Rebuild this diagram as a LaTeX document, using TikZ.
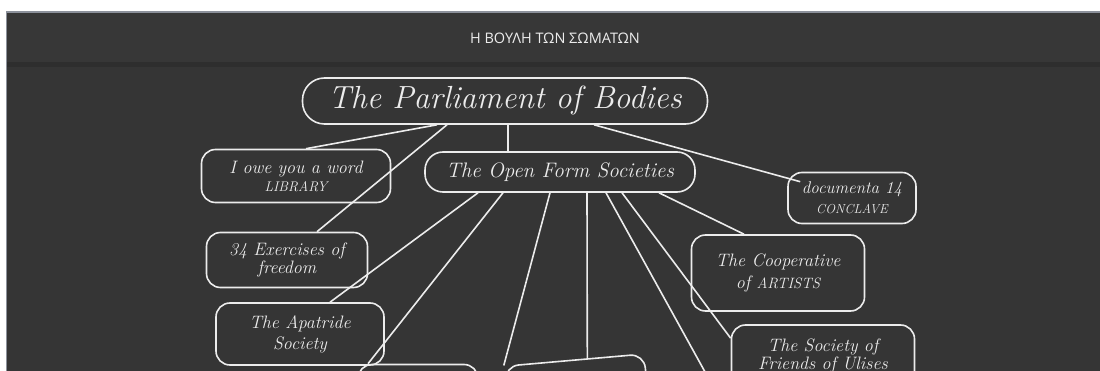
\documentclass[tikz,border=0pt]{standalone}
\usepackage{fontspec}
\newfontfamily\titlefont{Open Sans}
\usetikzlibrary{calc,positioning}
\definecolor{boardgray}{RGB}{53,53,53}
\definecolor{headgray}{RGB}{55,55,55}
\definecolor{shadegray}{RGB}{46,46,46}
\definecolor{edgegray}{RGB}{140,145,155}
\definecolor{chalk}{RGB}{236,236,236}

\begin{document}
\begin{tikzpicture}[x=1pt, y=-1pt,
  society/.style={draw=chalk, line width=1.6pt, rounded corners=14pt, text=chalk,
    align=center, inner sep=0pt, font=\itshape\fontsize{18}{18}\selectfont},
  link/.style={draw=chalk, line width=1.6pt}]
  % Draw page and header bar
  \useasboundingbox (0,0) rectangle (1100,371);
  \fill[white] (0,0) rectangle (1100,371);
  \fill[edgegray] (6,11) rectangle (1100,371);
  \fill[headgray] (7,13) rectangle (1100,62);
  \fill[shadegray] (7,62) rectangle (1100,67);
  \fill[boardgray] (7,67) rectangle (1100,371);
  \node[text=chalk, font=\titlefont\fontsize{14.5}{14.5}\selectfont] (title) at (555,38) {Η ΒΟΥΛΗ ΤΩΝ ΣΩΜΑΤΩΝ};
  \clip (7,67) rectangle (1100,371);

  % Draw the parliament and the societies
  \node[society, rounded corners=22pt, minimum width=405pt, minimum height=46pt,
    font=\itshape\fontsize{32}{32}\selectfont] (parl) at (505,101) {The Parliament of Bodies};
  \node[society, minimum width=189pt, minimum height=53pt] (iowe) at (296,176)
    {I owe you a word\\{\fontsize{14}{14}\selectfont LIBRARY}};
  \node[society, rounded corners=18pt, minimum width=270pt, minimum height=40pt,
    font=\itshape\fontsize{21}{21}\selectfont] (open) at (560,172) {The Open Form Societies};
  \node[society, minimum width=128pt, minimum height=51pt, font=\itshape\fontsize{17}{20}\selectfont] (doc) at (852,198)
    {documenta 14\\{\fontsize{13}{13}\selectfont CONCLAVE}};
  \node[society, minimum width=161pt, minimum height=55pt, font=\itshape\fontsize{18}{16}\selectfont] (exer) at (287,260)
    {34 Exercises of\\freedom};
  \node[society, minimum width=168pt, minimum height=62pt, font=\itshape\fontsize{18}{21}\selectfont] (apat) at (300,334)
    {The Apatride\\Society};
  \node[society, minimum width=173pt, minimum height=76pt, font=\itshape\fontsize{18}{22}\selectfont] (coop) at (778,273)
    {The Cooperative\\of {\fontsize{15}{15}\selectfont ARTISTS}};
  \node[society, minimum width=183pt, minimum height=76pt] (ulis) at (823,363)
    {The Society of\\Friends of Ulises\\Carrión};
  \node[society, minimum width=120pt, minimum height=55pt] (boxa) at (418,392) {};
  \node[society, rotate=5, minimum width=140pt, minimum height=60pt] (symb) at (577,390) {};
  \coordinate (hidden) at (715,390);

  % Connectors
  \draw[link] ([xshift=-68pt]parl.south) -- ([xshift=10pt]iowe.north);
  \draw[link] ([xshift=-58pt]parl.south) -- ([xshift=30pt]exer.north);
  \draw[link] ([xshift=3pt]parl.south) -- ([xshift=-52pt]open.north);
  \draw[link] ([xshift=89pt]parl.south) -- ([xshift=13pt,yshift=-10pt]doc.north west);
  \draw[link] ([xshift=-82pt]open.south) -- ([xshift=30pt]apat.north);
  \draw[link] ([xshift=-57pt]open.south) -- ([xshift=-50pt]boxa.north);
  \draw[link] ([xshift=-10pt]open.south) -- (symb.north west);
  \draw[link] ([xshift=27pt]open.south) -- ([xshift=13pt]symb.north);
  \draw[link] ([xshift=46pt]open.south) -- (hidden);
  \draw[link] ([xshift=62pt]open.south) -- (ulis.165);
  \draw[link] ([xshift=99pt]open.south) -- ([xshift=-34pt]coop.north);
\end{tikzpicture}
\end{document}
